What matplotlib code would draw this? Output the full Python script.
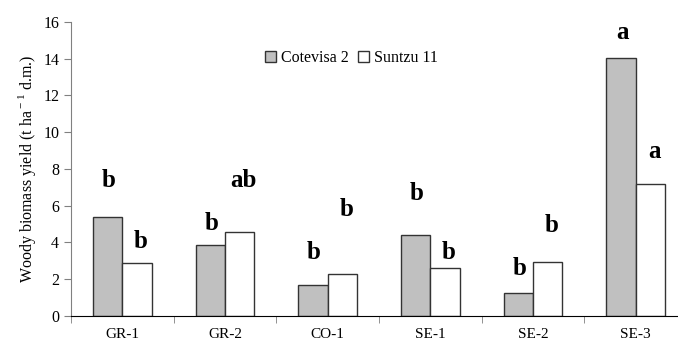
import numpy as np
import matplotlib.pyplot as plt
from matplotlib.ticker import FixedLocator

plt.rcParams['font.family'] = ['Liberation Serif', 'DejaVu Serif']
plt.rcParams['mathtext.fontset'] = 'custom'
plt.rcParams['mathtext.rm'] = 'Liberation Serif'

sites = ['GR-1', 'GR-2', 'CO-1', 'SE-1', 'SE-2', 'SE-3']
cotevisa = [5.40, 3.85, 1.70, 4.39, 1.27, 14.04]
suntzu = [2.90, 4.59, 2.30, 2.61, 2.96, 7.20]
letters_cot = ['b', 'b', 'b', 'b', 'b', 'a']
letters_sun = ['b', 'ab', 'b', 'b', 'b', 'a']
# letter heights (data units) as placed in the original
lety_cot = [7.4, 5.06, 3.43, 6.69, 2.6, 15.45]
lety_sun = [4.08, 7.35, 5.77, 3.48, 4.95, 8.93]

x = np.arange(len(sites))
w = 0.285

fig = plt.figure(figsize=(6.78, 3.49), dpi=100)
ax = fig.add_axes([0.1047, 0.0946, 0.9086, 0.8424])

ax.bar(x - w / 2, cotevisa, w, color='#c0c0c0', edgecolor='#333333',
       linewidth=1, label='Cotevisa 2')
ax.bar(x + w / 2, suntzu, w, color='white', edgecolor='#333333',
       linewidth=1, label='Suntzu 11')

for i in range(len(sites)):
    ax.text(x[i] - w / 2 + 0.01, lety_cot[i], letters_cot[i], ha='center',
            va='center', fontsize=18, fontweight='bold')
    ax.text(x[i] + w / 2 + 0.04, lety_sun[i], letters_sun[i], ha='center',
            va='center', fontsize=18, fontweight='bold')

ax.set_xlim(-0.5, 5.5)
ax.set_ylim(0, 16)
ax.set_yticks(np.arange(0, 17, 2))
ax.set_xticks(x)
ax.set_xticklabels(sites)
ax.xaxis.set_minor_locator(FixedLocator(np.arange(-0.5, 6, 1)))
ax.tick_params(axis='x', which='major', length=0, pad=9, labelsize=11)
ax.tick_params(axis='x', which='minor', length=5, direction='out', color='#808080')
ax.tick_params(axis='y', length=5, direction='out', labelsize=11.5, color='#808080')

ax.spines['top'].set_visible(False)
ax.spines['right'].set_visible(False)
ax.spines['left'].set_color('#808080')
ax.spines['bottom'].set_color('black')

ax.set_ylabel(r'Woody biomass yield (t ha$^{\rm -1}$ d.m.)', fontsize=11.5,
              labelpad=4)

ax.legend(loc='center', bbox_to_anchor=(0.455, 0.878), ncol=2,
          frameon=False, fontsize=11.5, handlelength=0.7, handleheight=0.7,
          handletextpad=0.3, columnspacing=0.6)

fig.savefig('out.png')
